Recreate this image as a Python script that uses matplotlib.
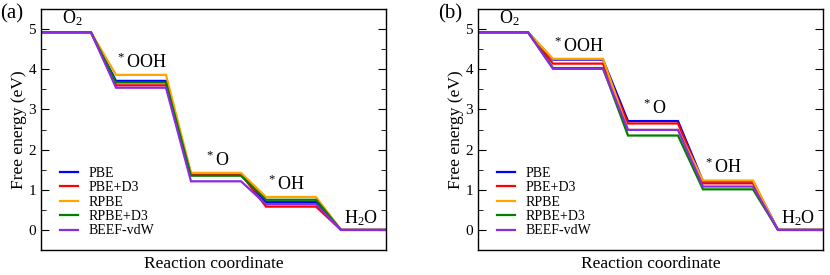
import numpy as np
import matplotlib
matplotlib.use("Agg")
import matplotlib.pyplot as plt
from matplotlib.ticker import MultipleLocator

plt.rcParams['font.family'] = ['Liberation Serif', 'DejaVu Serif']
plt.rcParams['mathtext.fontset'] = 'custom'
plt.rcParams['mathtext.rm'] = 'Liberation Serif'
plt.rcParams['mathtext.it'] = 'Liberation Serif:italic'

functionals = ['PBE', 'PBE+D3', 'RPBE', 'RPBE+D3', 'BEEF-vdW']
colors = ['#0000ff', '#ff0000', '#ffa500', '#008000', '#8a2be2']
species = [r'O$_2$', r'$^*$OOH', r'$^*$O', r'$^*$OH', r'H$_2$O']

# free energies (eV) per step: O2, *OOH, *O, *OH, H2O
energies_a = {
    'PBE':      [4.92, 3.71, 1.37, 0.69, 0.0],
    'PBE+D3':   [4.92, 3.60, 1.39, 0.58, 0.0],
    'RPBE':     [4.92, 3.86, 1.42, 0.82, 0.0],
    'RPBE+D3':  [4.92, 3.67, 1.35, 0.75, 0.0],
    'BEEF-vdW': [4.92, 3.54, 1.21, 0.64, 0.0],
}
energies_b = {
    'PBE':      [4.92, 4.24, 2.71, 1.21, 0.0],
    'PBE+D3':   [4.92, 4.14, 2.65, 1.16, 0.0],
    'RPBE':     [4.92, 4.26, 2.49, 1.23, 0.0],
    'RPBE+D3':  [4.92, 4.03, 2.35, 1.01, 0.0],
    'BEEF-vdW': [4.92, 4.01, 2.49, 1.08, 0.0],
}

# step layout: plateau width 2, connector width 1
starts = np.arange(5) * 3
xs = np.ravel([[s, s + 2] for s in starts])

fig = plt.figure(figsize=(8.3, 2.75), dpi=100)
ax_a = fig.add_axes([41/830, 1 - 250/275, 345/830, 241/275])
ax_b = fig.add_axes([478/830, 1 - 250/275, 345/830, 241/275])

label_offsets = [(0.85, 0.1), (0.0, 0.08), (0.55, 0.08), (0.05, 0.08), (0.1, 0.06)]

for ax, data, tag in [(ax_a, energies_a, '(a)'), (ax_b, energies_b, '(b)')]:
    for name, c in zip(functionals, colors):
        ys = np.repeat(data[name], 2)
        ax.plot(xs, ys, color=c, lw=1.6, label=name, solid_joinstyle='miter')
    tops = np.max([data[n] for n in functionals], axis=0)
    for i, sp in enumerate(species):
        dx, dy = label_offsets[i]
        ax.text(starts[i] + dx, tops[i] + dy, sp, fontsize=13,
                ha='left', va='bottom')
    ax.set_xlim(0, 13.8)
    ax.set_ylim(-0.5, 5.5)
    ax.set_xticks([])
    ax.yaxis.set_major_locator(MultipleLocator(1))
    ax.yaxis.set_minor_locator(MultipleLocator(0.5))
    ax.tick_params(axis='y', which='both', direction='in', left=True, right=True,
                   labelsize=11)
    ax.tick_params(axis='y', which='major', length=6)
    ax.tick_params(axis='y', which='minor', length=3.5)
    ax.set_xlabel('Reaction coordinate', fontsize=12.5, labelpad=4)
    ax.set_ylabel('Free energy (eV)', fontsize=12.5, labelpad=1)
    ax.legend(loc='lower left', frameon=False, fontsize=10, handlelength=1.3,
              handletextpad=0.7, labelspacing=0.1, borderaxespad=0.5,
              bbox_to_anchor=(0.02, 0.0))
    for sp_ in ax.spines.values():
        sp_.set_linewidth(1.0)

fig.text(0.0, 1 - 14/275, '(a)', fontsize=15, va='center', ha='left')
fig.text(438/830, 1 - 14/275, '(b)', fontsize=15, va='center', ha='left')

fig.savefig('out.png', dpi=100)
